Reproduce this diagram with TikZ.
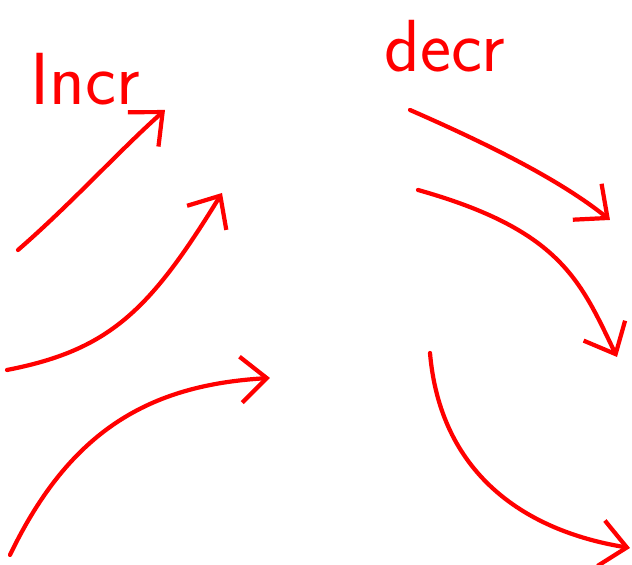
\documentclass[tikz,border=0pt]{standalone}
\usepackage{tikz}
\usetikzlibrary{arrows.meta}

\begin{document}
\begin{tikzpicture}[x=0.01cm, y=-0.01cm,
    label/.style={text=red, font=\fontsize{21}{21}\selectfont\sffamily, inner sep=0pt},
    arrow/.style={red, line width=1.2pt, line cap=round, line join=round,
                  -{Straight Barb[length=2.6mm, width=4.6mm, line width=1.2pt]}},
]
\useasboundingbox (0,0) rectangle (632,565);

\node[label] (incr) at (85,79) {Incr};
\node[label] (decr) at (445,46) {decr};

% increasing
\coordinate (i1s) at (18,250);  \coordinate (i1e) at (165,110);
\coordinate (i2s) at (7,370);   \coordinate (i2e) at (222,193);
\coordinate (i3s) at (10,555);  \coordinate (i3e) at (270,378);
\draw[arrow] (i1s) .. controls (70,205) and (120,150) .. (i1e);
\draw[arrow] (i2s) .. controls (110,350) and (150,310) .. (i2e);
\draw[arrow] (i3s) .. controls (70,430) and (150,385) .. (i3e);

% decreasing
\coordinate (d1s) at (410,110); \coordinate (d1e) at (610,220);
\coordinate (d2s) at (418,190); \coordinate (d2e) at (617,357);
\coordinate (d3s) at (430,353); \coordinate (d3e) at (630,548);
\draw[arrow] (d1s) .. controls (490,145) and (560,180) .. (d1e);
\draw[arrow] (d2s) .. controls (560,230) and (580,280) .. (d2e);
\draw[arrow] (d3s) .. controls (440,470) and (520,530) .. (d3e);
\end{tikzpicture}
\end{document}
